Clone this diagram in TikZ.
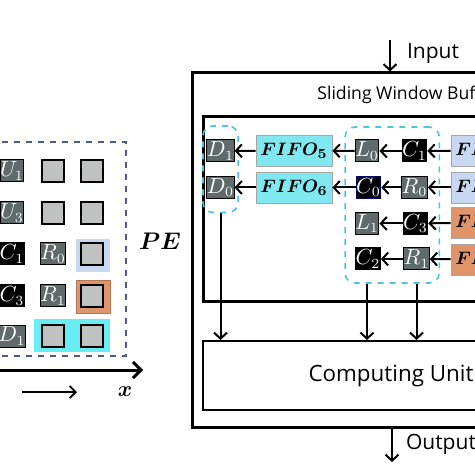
\documentclass[tikz,border=0pt]{standalone}
\usepackage{fontspec}
\usepackage{bm}
\setmainfont{Open Sans}
\usetikzlibrary{arrows.meta,fit}
\definecolor{cellgray}{RGB}{95,106,106}
\definecolor{lightcell}{RGB}{192,194,194}
\definecolor{fifocyan}{RGB}{128,232,240}
\definecolor{fblue}{RGB}{201,216,242}
\definecolor{forange}{RGB}{224,148,106}
\definecolor{grpcyan}{RGB}{80,195,217}
\definecolor{boxblue}{RGB}{74,90,138}
\tikzset{
  cell/.style={minimum size=11pt,inner sep=0pt,font=\fontsize{10.5}{10.5}\selectfont,text=white},
  gcell/.style={cell,fill=cellgray,draw=black,line width=0.5pt},
  bcell/.style={cell,fill=black,draw=black,line width=0.5pt},
  lcell/.style={cell,fill=lightcell,draw=black,line width=0.8pt},
  fifo/.style={minimum width=38pt,minimum height=15.5pt,inner sep=0pt,draw=gray!70,line width=0.4pt,font=\fontsize{9.5}{9.5}\selectfont},
  grp/.style={draw=grpcyan,dashed,rounded corners=5pt,line width=0.8pt},
  arr/.style={line width=1pt,-{Straight Barb[length=3pt,width=6.5pt]}}
}
\begin{document}
\begin{tikzpicture}[x=0.5pt,y=-0.5pt]
  \useasboundingbox (0,0) rectangle (474,474);

  % left grid
  \fill[fblue] (76,239) rectangle (110,272);
  \filldraw[fill=forange,draw=forange!80!black,line width=0.3pt] (76,280) rectangle (110,313);
  \fill[fifocyan!80!cyan] (34,319) rectangle (110,352);
  \draw[boxblue,dashed,line width=0.6pt] (-60,142) rectangle (126,356);

  \node (lu1) [gcell] at (12,171) {$U_1$};
  \node (lu3) [gcell] at (12,213) {$U_3$};
  \node (lc1) [bcell] at (12,254) {$C_1$};
  \node (lc3) [bcell] at (12,296) {$C_3$};
  \node (ld1) [gcell] at (12,336) {$D_1$};
  \node (lr0) [gcell] at (53,254) {$R_0$};
  \node (lr1) [gcell] at (53,296) {$R_1$};
  \foreach \x/\y in {53/171,92/171,53/213,92/213,92/254,92/296,53/336,92/336}
    \node [lcell] at (\x,\y) {};

  \coordinate (ax0) at (-60,370);
  \coordinate (ax1) at (143,370);
  \draw[line width=1.5pt,-{Straight Barb[length=4pt,width=8pt]}] (ax0) -- (ax1);
  \coordinate (dx0) at (22,392);
  \coordinate (dx1) at (77,392);
  \draw[line width=0.9pt,-{Straight Barb[length=3pt,width=6pt]}] (dx0) -- (dx1);
  \node (xlab) at (125,392) {\fontsize{11}{11}\selectfont$\bm{x}$};
  \node (pelab) at (160,241) {\fontsize{12}{12}\selectfont$\bm{PE}$};

  % PE
  \node (pe) [draw,line width=1.5pt,minimum width=199pt,minimum height=177pt] at (391,250) {};
  \node (buf) [draw,line width=1.5pt,minimum width=188pt,minimum height=92.5pt] at (391,209.5) {};
  \node (cu) [draw,line width=1pt,minimum width=188pt,minimum height=34.5pt,font=\fontsize{11.2}{11.2}\selectfont] at (391,375.5) {Computing Unit};
  \node (swb) [anchor=west,inner sep=0pt,font=\fontsize{8.8}{8.8}\selectfont] at (317,95) {Sliding Window Buffer};

  \coordinate (in) at (390,40);
  \draw[arr] (in) -- (in |- pe.north);
  \node (inlab) [anchor=west,font=\fontsize{10.5}{10.5}\selectfont] at (400,54) {Input};
  \coordinate (out) at (392,462);
  \draw[arr] (out |- pe.south) -- (out);
  \node (outlab) [anchor=west,font=\fontsize{10.5}{10.5}\selectfont] at (399,444) {Output};

  % buffer contents
  \node (d1) [gcell] at (220.5,151) {$D_1$};
  \node (d0) [gcell] at (220.5,187.5) {$D_0$};
  \node (fifo5) [fifo,fill=fifocyan] at (294,150.5) {$\bm{FIFO_5}$};
  \node (fifo6) [fifo,fill=fifocyan] at (294,187.5) {$\bm{FIFO_6}$};
  \node (l0) [gcell] at (367,151) {$L_0$};
  \node (c0) [bcell,draw=blue!40!black] at (368.5,187.5) {$C_0$};
  \node (l1) [gcell] at (367,223.5) {$L_1$};
  \node (c2) [bcell] at (368,259) {$C_2$};
  \node (c1) [bcell] at (414.5,151) {$C_1$};
  \node (r0) [gcell] at (414.5,187.5) {$R_0$};
  \node (c3) [bcell] at (415.5,223.5) {$C_3$};
  \node (r1) [gcell] at (416.5,259) {$R_1$};
  \node (f1) [fifo,fill=fblue] at (489,150.5) {$\bm{FIFO_1}$};
  \node (f2) [fifo,fill=fblue] at (489,187.5) {$\bm{FIFO_2}$};
  \node (f3) [fifo,fill=forange] at (489,222.5) {$\bm{FIFO_3}$};
  \node (f4) [fifo,fill=forange] at (489,259.5) {$\bm{FIFO_4}$};

  \node (dgrp) [grp,fit=(d1)(d0),inner xsep=1.75pt,inner ysep=6.75pt] {};
  \node (mgrp) [grp,fit=(l0)(c1)(c2)(r1),inner xsep=4.75pt,inner ysep=6.25pt] {};

  \foreach \from/\to in {f1/c1,c1/l0,l0/fifo5,fifo5/d1,f2/r0,r0/c0,c0/fifo6,fifo6/d0,f3/c3,c3/l1,f4/r1,r1/c2}
    \draw[arr] (\from) -- (\to);

  \draw[arr] (dgrp.south) -- (dgrp.south |- cu.north);
  \draw[arr] (l1 |- mgrp.south) -- (l1 |- cu.north);
  \draw[arr] (r1 |- mgrp.south) -- (r1 |- cu.north);
\end{tikzpicture}
\end{document}
